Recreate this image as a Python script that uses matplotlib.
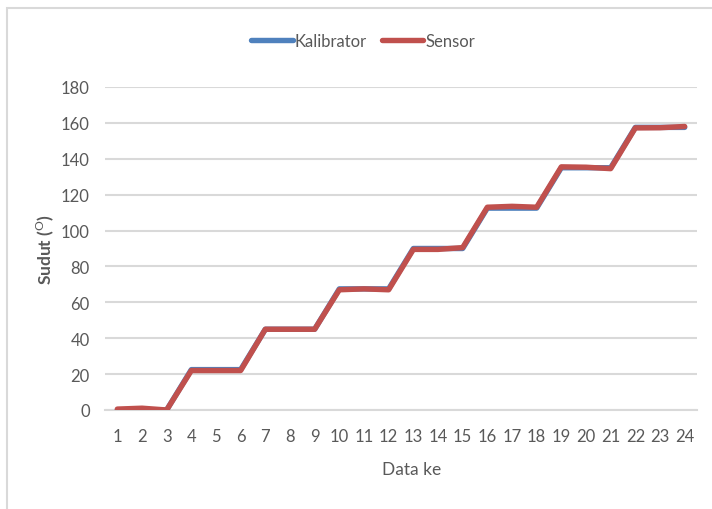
import matplotlib
matplotlib.use("Agg")
import matplotlib.pyplot as plt
from matplotlib.patches import Rectangle

plt.rcParams['font.family'] = ['Lato', 'DejaVu Sans']
plt.rcParams['mathtext.fontset'] = 'custom'
plt.rcParams['mathtext.rm'] = 'Lato'

data_ke = list(range(1, 25))
kalibrator = [0, 0, 0, 22.5, 22.5, 22.5, 45, 45, 45, 67.5, 67.5, 67.5,
              90, 90, 90, 112.5, 112.5, 112.5, 135, 135, 135, 157.5, 157.5, 157.5]
sensor = [0.5, 1, 0, 22, 22, 22, 45, 45, 45, 67, 67.5, 67,
          89.5, 89.5, 90.5, 113, 113.5, 113, 135.5, 135.3, 134.5, 157.2, 157.3, 158]
y_ticks = [0, 20, 40, 60, 80, 100, 120, 140, 160, 180]

W, H = 712, 510
fig = plt.figure(figsize=(W / 100, H / 100), dpi=100)
ax = fig.add_axes([105 / W, (H - 411) / H, (697 - 105) / W, (411 - 88) / H])

txt = '#595959'
grid = '#d9d9d9'

ax.plot(data_ke, kalibrator, color='#4F81BD', lw=3.9, solid_capstyle='round',
        solid_joinstyle='round', label='Kalibrator', zorder=3)
ax.plot(data_ke, sensor, color='#C0504D', lw=3.9, solid_capstyle='round',
        solid_joinstyle='round', label='Sensor', zorder=4)

ax.set_xlim(0.5, 24.5)
ax.set_ylim(0, 180)
ax.set_xticks(data_ke)
ax.set_xticklabels([str(d) for d in data_ke])
ax.set_yticks(y_ticks)
ax.set_yticklabels([str(v) for v in y_ticks])
ax.grid(axis='y', color=grid, lw=1.5, zorder=1)
ax.set_axisbelow(True)
for s in ['top', 'right', 'left']:
    ax.spines[s].set_visible(False)
ax.spines['bottom'].set_color(grid)
ax.spines['bottom'].set_linewidth(1.5)
ax.tick_params(axis='both', length=0, colors=txt, labelsize=12)
ax.tick_params(axis='x', pad=13)
ax.tick_params(axis='y', pad=11)

fig.text(412 / W, 1 - 470 / H, 'Data ke', ha='center', va='center',
         color=txt, fontsize=12.5)
fig.text(45 / W, 1 - 250 / H, r'Sudut ($^{\mathrm{O}}$)', ha='center', va='center',
         rotation=90, color=txt, fontsize=12.5, fontweight='bold')

leg = fig.legend(loc='center', bbox_to_anchor=(363 / W, 1 - 42 / H), ncol=2,
                 frameon=False, fontsize=12, handlelength=2.5, handletextpad=0.1,
                 columnspacing=0.9)
for t in leg.get_texts():
    t.set_color(txt)

fig.patches.append(Rectangle((7 / W, -0.1), 1.2, (H - 9) / H + 0.1,
                             transform=fig.transFigure, fill=False,
                             edgecolor=grid, lw=1.5))

fig.savefig('out.png', dpi=100)
